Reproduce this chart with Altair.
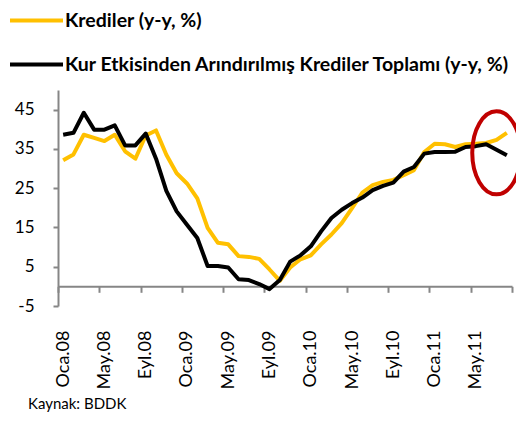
import json
import altair as alt
import pandas as pd

# ---- data ----
series_names = ["Krediler (y-y, %)",
                "Kur Etkisinden Arındırılmış Krediler Toplamı (y-y, %)"]

krediler = [32.1, 33.6, 38.6, 37.8, 37.0, 38.6, 34.4, 32.5, 38.4, 39.7,
            33.5, 28.8, 26.2, 22.4, 14.9, 11.1, 10.7, 7.7, 7.5, 7.0,
            4.3, 1.4, 4.8, 6.9, 7.9, 10.7, 13.2, 16.1, 19.9, 23.9,
            25.8, 26.6, 27.1, 28.3, 29.6, 34.2, 36.3, 36.2, 35.5, 36.2,
            36.3, 36.5, 37.3, 39.1]

kur_arindirilmis = [38.6, 39.1, 44.2, 39.9, 39.9, 41.0, 35.9, 35.9, 38.9, 32.5,
                    24.3, 19.1, 15.7, 12.3, 5.2, 5.2, 4.8, 1.8, 1.6, 0.6,
                    -0.7, 1.6, 6.3, 7.9, 10.2, 14.0, 17.4, 19.5, 21.2, 22.6,
                    24.5, 25.6, 26.4, 29.2, 30.4, 33.8, 34.2, 34.2, 34.3, 35.5,
                    35.7, 36.2, 34.8, 33.4]

tick_labels = ["Oca.08", "May.08", "Eyl.08", "Oca.09", "May.09", "Eyl.09",
               "Oca.10", "May.10", "Eyl.10", "Oca.11", "May.11"]

y_ticks = [-5, 5, 15, 25, 35, 45]

# highlight ellipse (month index, value)
highlight_x = [42.0]
highlight_y = [34.0]

source_text = "Kaynak: BDDK"

# ---- build tables ----
n = len(krediler)
rows = []
for i, v in enumerate(krediler):
    rows.append({"idx": i, "value": v, "series": series_names[0]})
for i, v in enumerate(kur_arindirilmis):
    rows.append({"idx": i, "value": v, "series": series_names[1]})
df = pd.DataFrame(rows)
ann = pd.DataFrame({"x": highlight_x, "y": highlight_y})

FONT = "Lato"
GRAY = "#868686"

xs = alt.Scale(domain=[-0.5, n - 0.5], nice=False, zero=False)
ys = alt.Scale(domain=[-5, 50], nice=False, zero=False)

label_expr = json.dumps(tick_labels) + "[round(datum.value / 4)]"

y_axis = alt.Axis(values=y_ticks, grid=False, domainColor=GRAY,
                  domainWidth=2, tickColor=GRAY, tickWidth=2, tickSize=5,
                  labelFont=FONT, labelFontSize=17, labelColor="#000",
                  labelExpr="datum.value < 0 ? '-' + abs(datum.value) : '' + datum.value",
                  labelPadding=19, title=None)

lines = alt.Chart(df).mark_line(strokeWidth=4, strokeJoin="round").encode(
    x=alt.X("idx:Q", scale=xs,
            axis=alt.Axis(values=list(range(0, n, 4)), labelExpr=label_expr,
                          labelAngle=-90, ticks=False, domain=False, grid=False,
                          labelFont=FONT, labelFontSize=18, labelColor="#000",
                          labelPadding=24, labelOverlap=False, labelFlush=False,
                          title=None, orient="bottom")),
    y=alt.Y("value:Q", scale=ys, axis=y_axis),
    color=alt.Color("series:N",
                    scale=alt.Scale(domain=series_names, range=["#FFC000", "#000000"]),
                    legend=alt.Legend(orient="none", legendX=-50, legendY=-98,
                                      direction="vertical", title=None,
                                      symbolType="stroke", symbolSize=2809,
                                      symbolStrokeWidth=4, labelFont=FONT,
                                      labelFontSize=19.5, labelFontWeight="bold",
                                      labelColor="#000", labelLimit=600,
                                      rowPadding=6, labelOffset=0, padding=0)),
    order=alt.Order("idx:Q"),
)

ellipse = alt.Chart(ann).mark_point(
    shape="M -0.585,0 A 0.585,1 0 1,1 0.585,0 A 0.585,1 0 1,1 -0.585,0 Z",
    size=6889, filled=False, stroke="#C00000", strokeWidth=4, opacity=1,
).encode(
    x=alt.X("x:Q", scale=xs,
            axis=alt.Axis(values=[k * 4 - 0.5 for k in range(n // 4 + 1)],
                          labels=False, ticks=True, tickSize=6, tickColor=GRAY,
                          tickWidth=2, domainColor=GRAY, domainWidth=2,
                          grid=False, title=None, orient="bottom",
                          offset=-19.7)),
    y=alt.Y("y:Q", scale=ys, axis=y_axis),
)

chart = alt.layer(lines, ellipse).resolve_axis(x="independent").properties(
    width=454, height=216,
    background="white",
    autosize=alt.AutoSizeParams(type="none"),
    padding={"left": 50, "top": 82, "right": 4, "bottom": 109},
    title=alt.TitleParams(source_text, orient="bottom", anchor="start",
                          frame="group", font=FONT, fontSize=15,
                          fontWeight="normal", color="#000", dx=-30, offset=8),
).configure_view(stroke=None)

chart.save("out.html", embed_options={"renderer": "svg", "actions": False})
